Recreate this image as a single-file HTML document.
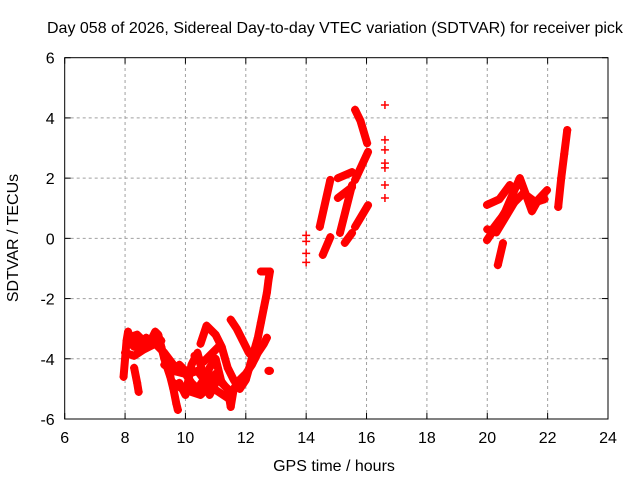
<!DOCTYPE html>
<html><head><meta charset="utf-8"><style>
body{margin:0;background:#fff}
svg text{font-family:"Liberation Sans",sans-serif;font-size:16px;fill:#000}
</style></head><body>
<svg id="c" width="640" height="480">
<text x="47" y="33">Day 058 of 2026, Sidereal Day-to-day VTEC variation (SDTVAR) for receiver pick</text>
<text x="334" y="471" text-anchor="middle">GPS time / hours</text>
<text x="18" y="238" text-anchor="middle" transform="rotate(-90 18 238)">SDTVAR / TECUs</text>
<g id="grid"></g><g id="marks"></g>
<rect x="64.7" y="57.7" width="543.3" height="361.3" fill="none" stroke="#000" stroke-width="1"/>
</svg>
<script>
const xTicks=[6,8,10,12,14,16,18,20,22,24];
const yTicks=[-6,-4,-2,0,2,4,6];
// traces: times (hours) and SDTVAR values (TECU)
const traceTimes=[
[7.95,8.0,8.05,8.1,8.2,8.3,8.4,8.5,8.6,8.7,8.8,8.9,9.0,9.1,9.2,9.3,9.4,9.5,9.6,9.7,9.75],
[8.3,8.4,8.45],
[9.3,9.6,10.0,10.2,10.4,10.6,10.8,11.0,11.2,11.4,11.5,11.6,11.8,12.0,12.2,12.4,12.6,12.7],
[10.5,10.6,10.7,10.8,11.0,11.2,11.4,11.6,11.8,12.0,12.2,12.4,12.5,12.6,12.7,12.75,12.8],
[11.5,11.7,11.9,12.1,12.3],
[9.8,10.0,10.2,10.4,10.6,10.8,11.0],
[12.75,12.8],
[12.5,12.6,12.75],
[8.0,8.3,8.6,9.0,9.3,9.6],
[9.5,9.8,10.1,10.4,10.7,11.0,11.3],
[9.6,9.9,10.2,10.5,10.8,11.1,11.4],
[10.3,10.6,10.9,11.1],
[8.1,8.4,8.7,9.0,9.2],
[14.0,14.0,14.0,14.0],
[14.55,14.8],[14.45,14.8],[15.12,15.52],[15.05,15.52],[15.05,15.52],
[15.62,15.8,16.02],[15.62,16.05],[15.62,16.05],[15.28,15.52],
[16.61,16.61,16.61,16.61,16.61,16.61,16.61],
[19.99,20.4,20.75],
[19.99,20.3,20.6,20.9,21.08,21.3,21.48,21.7,21.98],
[20.1,20.4,20.8,21.2,21.6,21.9],
[20.0,20.3,20.6,20.9],
[20.35,20.52],
[22.35,22.45,22.55,22.65]
];
const traceValues=[
[-4.6,-4.0,-3.4,-3.1,-3.5,-3.6,-3.4,-3.6,-3.4,-3.3,-3.5,-3.3,-3.1,-3.2,-3.6,-4.0,-4.3,-4.6,-5.0,-5.5,-5.7],
[-4.3,-4.8,-5.1],
[-4.2,-4.4,-4.5,-4.8,-5.0,-4.7,-4.3,-4.0,-4.8,-5.0,-5.6,-5.0,-4.7,-4.5,-4.2,-3.8,-3.5,-3.3],
[-3.5,-3.2,-2.9,-3.0,-3.2,-3.6,-4.3,-4.7,-5.0,-4.7,-4.0,-3.3,-2.8,-2.3,-1.8,-1.4,-1.1],
[-2.7,-3.0,-3.4,-3.8,-4.0],
[-4.8,-5.2,-4.2,-3.8,-4.6,-5.2,-4.8],
[-4.4,-4.4],
[-1.1,-1.1,-1.1],
[-3.8,-3.9,-3.7,-3.5,-3.8,-4.2],
[-4.5,-4.2,-4.5,-4.4,-4.8,-4.5,-4.9],
[-4.8,-5.0,-5.1,-5.2,-4.9,-5.1,-5.3],
[-3.9,-4.1,-3.8,-3.6],
[-3.3,-3.2,-3.5,-3.2,-3.4],
[0.1,-0.1,-0.5,-0.8],
[-0.55,0.04],[0.38,1.94],[0.18,1.77],[1.34,1.7],[2.0,2.2],
[4.27,3.9,3.16],[1.94,2.87],[0.38,1.1],[-0.15,0.18],
[4.43,3.27,2.94,2.5,2.34,1.77,1.34],
[1.11,1.3,1.77],
[-0.06,0.4,0.9,1.6,2.0,1.4,0.9,1.3,1.6],
[0.2,0.6,1.1,1.5,1.2,1.3],
[0.3,0.2,0.7,1.2],
[-0.89,-0.16],
[1.04,2.0,2.8,3.6]
];
const X0=64.7,X1=608,Y0=419,Y1=57.7;
const xs=t=>X0+(t-6)/18*(X1-X0);
const ys=v=>Y0-(v+6)/12*(Y0-Y1);
const NS="http://www.w3.org/2000/svg";
const g=document.getElementById('grid'),m=document.getElementById('marks');
function mk(tag,a,p){const e=document.createElementNS(NS,tag);for(const k in a)e.setAttribute(k,a[k]);p.appendChild(e);return e;}
xTicks.forEach(t=>{const x=xs(t);
 if(t>6&&t<24){const l=mk('line',{x1:x,x2:x,y1:Y0,y2:Y1,stroke:'#a0a0a0','stroke-dasharray':'3,3'},g);
 
 }
 mk('line',{x1:x,x2:x,y1:Y0,y2:Y0-6,stroke:'#000'},g);mk('line',{x1:x,x2:x,y1:Y1,y2:Y1+6,stroke:'#000'},g);
 const tx=mk('text',{x:x,y:Y0+24,'text-anchor':'middle'},g);tx.textContent=t;
 
 });
yTicks.forEach(v=>{const y=ys(v);
 if(v>-6&&v<6){const l=mk('line',{x1:X0,x2:X1,y1:y,y2:y,stroke:'#a0a0a0','stroke-dasharray':'3,3'},g);
 
 }
 mk('line',{x1:X0,x2:X0+6,y1:y,y2:y,stroke:'#000'},g);mk('line',{x1:X1,x2:X1-6,y1:y,y2:y,stroke:'#000'},g);
 const tx=mk('text',{x:X0-10,y:y+6,'text-anchor':'end'},g);tx.textContent=v;
 
 });
traceTimes.forEach((ts,i)=>{const vs=traceValues[i];
 const pts=ts.map((t,j)=>xs(t)+','+ys(vs[j])).join(' ');
 if(ts.length>1&&ts[0]!==ts[1]){const pl=mk('polyline',{points:pts,fill:'none',stroke:'#ff0000','stroke-width':8,'stroke-linejoin':'round','stroke-linecap':'round'},m);
 
 }
 ts.forEach((t,j)=>{const x=xs(t),y=ys(vs[j]);
 const p=mk('path',{d:`M${x-4},${y}h8M${x},${y-4}v8`,stroke:'#ff0000','stroke-width':1.5},m);
 
 });});
</script>
</body></html>
